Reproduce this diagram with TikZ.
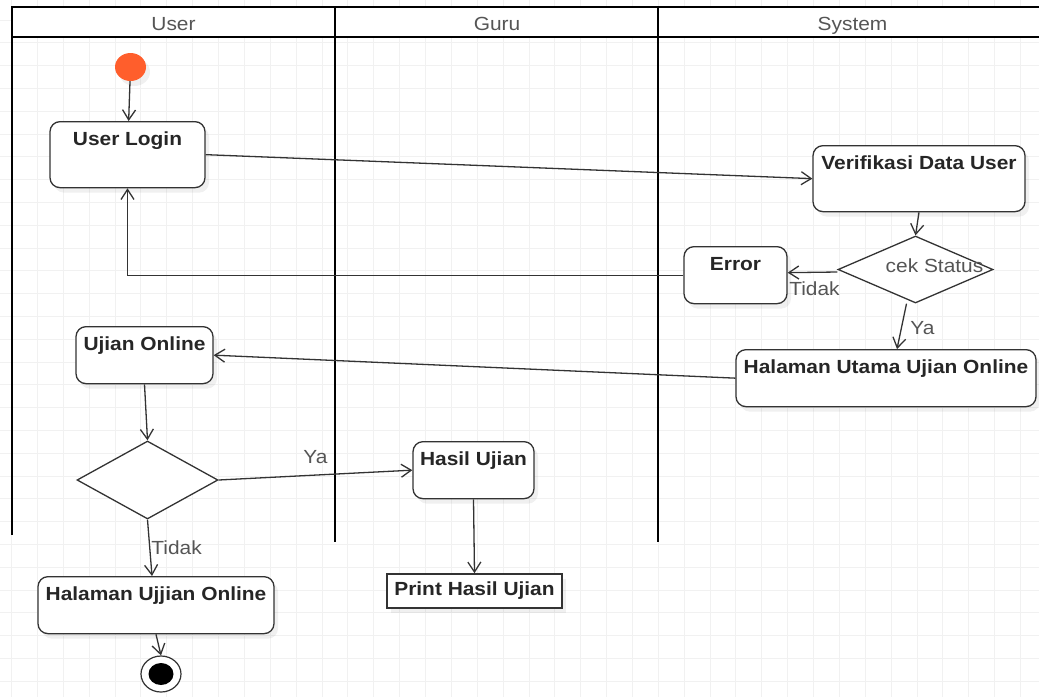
\documentclass[tikz,border=0pt]{standalone}
\usepackage{fontspec}
\setmainfont{Liberation Sans}[FakeStretch=1.1]
\usetikzlibrary{shapes.geometric,arrows.meta,shadows}
\definecolor{startc}{RGB}{255,94,44}
\definecolor{gridc}{RGB}{241,241,241}
\definecolor{linec}{RGB}{51,51,51}
\definecolor{headc}{RGB}{85,85,85}

\begin{document}
\begin{tikzpicture}[x=1pt,y=-1pt]
   \tikzstyle{every node}=[font=\fontsize{19}{22}\selectfont]
   \tikzstyle{shade}=[drop shadow={shadow xshift=4pt, shadow yshift=-5pt, opacity=0.12}]
   \tikzstyle{act}=[draw=linec, line width=1.3pt, fill=white, rounded corners=10pt, anchor=north, inner xsep=4pt, inner ysep=0pt, text height=24pt, text depth=33pt, text=black!85, font=\fontsize{19}{22}\selectfont\bfseries, shade]
   \tikzstyle{tall}=[text depth=42pt]
   \tikzstyle{cond}=[diamond, draw=linec, line width=1.3pt, fill=white, inner sep=0pt]
   \tikzstyle{lbl}=[text=headc, inner sep=1pt]
   \tikzstyle{flow}=[draw=linec, line width=1.3pt, -{Straight Barb[length=10pt,width=13pt]}]
   \tikzstyle{lane}=[line width=2.5pt]
   \tikzstyle{head}=[text=headc, anchor=base]

\useasboundingbox (0,0) rectangle (1039,697);
\foreach \i in {0,...,39} \draw[gridc, line width=1pt] (11.6+25.87*\i,0) -- (11.6+25.87*\i,697);
\foreach \j in {0,...,30} \draw[gridc, line width=1pt] (0,-2.8+22.8*\j) -- (1039,-2.8+22.8*\j);

\fill[white] (12,7) rectangle (1045,37);
\draw[lane] (1045,7) -- (12,7) -- (12,535);
\draw[lane] (12,37) -- (1045,37);
\draw[lane] (335,7) -- (335,542);
\draw[lane] (658,7) -- (658,542);
\node[head] (hUser) at (173.5,30.5) {User};
\node[head] (hGuru) at (497,30.5) {Guru};
\node[head] (hSystem) at (852.5,30.5) {System};

\node[ellipse, fill=startc, minimum width=31pt, minimum height=28pt, inner sep=0pt, shade] (start) at (130.5,67) {};
\node[act, tall, minimum width=155pt] (login) at (127.5,121) {User Login};
\node[act, tall, minimum width=212pt] (verif) at (919,145) {Verifikasi Data User};
\node[cond, minimum width=155pt, minimum height=67pt, label={[lbl, xshift=19pt, yshift=4pt]center:cek Status}] (cek) at (915.5,269.5) {};
\node[act, minimum width=103pt] (err) at (735.5,246) {Error};
\node[act, minimum width=300pt] (utama) at (886,349) {Halaman Utama Ujian Online};
\node[act, minimum width=137pt] (ujian) at (144.5,326) {Ujian Online};
\node[cond, minimum width=141pt, minimum height=78pt] (pilih) at (147.5,480) {};
\node[act, minimum width=121pt] (hasil) at (473.5,441) {Hasil Ujian};
\node[act, minimum width=236pt] (ujjian) at (156,576) {Halaman Ujjian Online};
\node[draw=linec, line width=1.6pt, fill=white, minimum width=175pt, minimum height=34pt, inner sep=0pt, text=black!85, font=\fontsize{19}{22}\selectfont\bfseries, shade] (print) at (474.5,591) {Print Hasil Ujian};
\node[ellipse, draw=linec, line width=1.2pt, fill=white, minimum width=40pt, minimum height=36pt, inner sep=0pt] (stop) at (161,674) {};
\fill (stop.center) ellipse (12.5pt and 11pt);

\draw[flow] (start) -- (login);
\draw[flow] (login.east) -- (verif.west);
\draw[flow] (verif.south) -- (cek.north);
\draw[flow] ([yshift=-2.5pt]cek.west) -- ([yshift=2.5pt]err.east) node[lbl, pos=1, anchor=north west, yshift=-7pt] {Tidak};
\draw[flow] (err.west) -| (login.south);
\draw[flow] ([xshift=-9pt]cek.south) -- ([xshift=11pt]utama.north) node[lbl, midway, right, xshift=7pt, yshift=-2pt] {Ya};
\draw[flow] (utama.west) -- (ujian.east);
\draw[flow] (ujian.south) -- (pilih.north);
\draw[flow] (pilih.east) -- (hasil.west) node[lbl, midway, above, yshift=10pt] {Ya};
\draw[flow] (pilih.south) -- ([xshift=-4pt]ujjian.north) node[lbl, midway, right] {Tidak};
\draw[flow] (hasil.south) -- (print.north);
\draw[flow] (ujjian.south) -- (stop.north);

\end{tikzpicture}
\end{document}
